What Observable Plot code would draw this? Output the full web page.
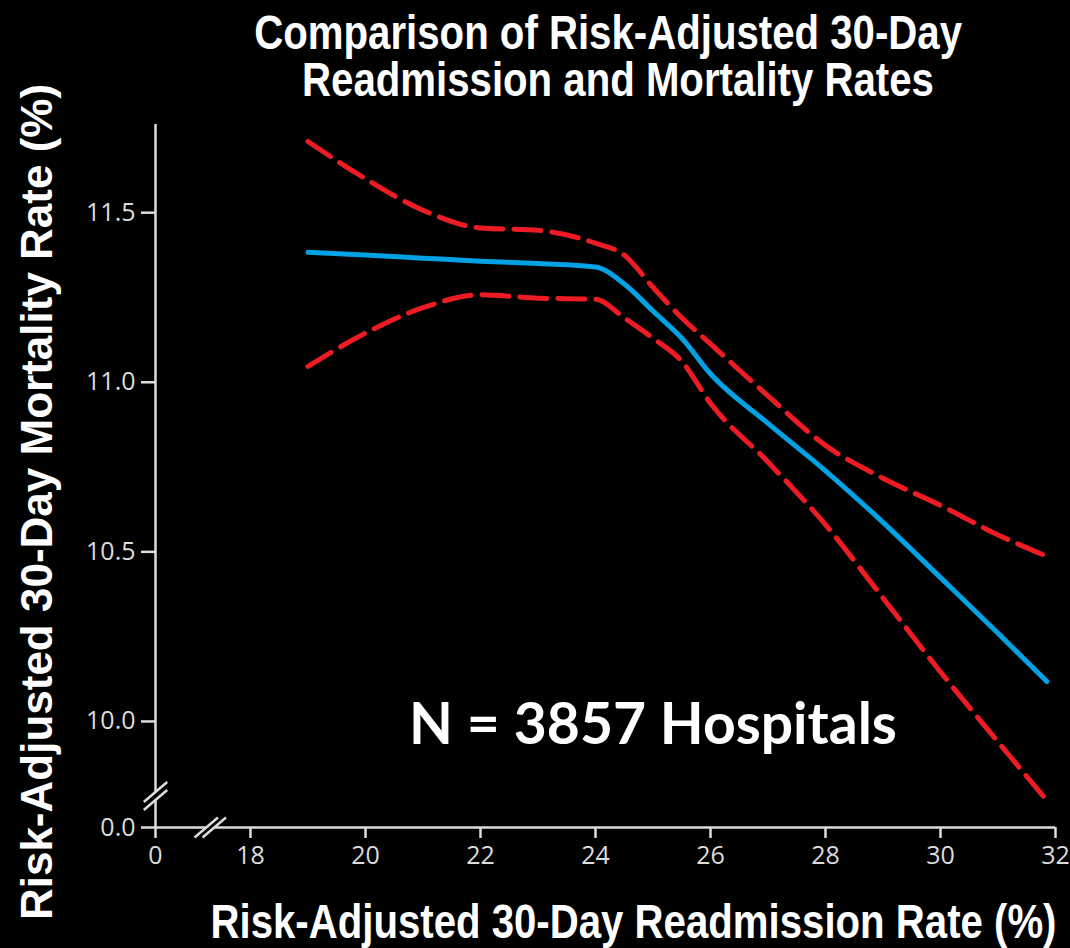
<!DOCTYPE html>
<html><head><meta charset="utf-8">
<script src="https://cdn.jsdelivr.net/npm/d3@7"></script>
<script src="https://cdn.jsdelivr.net/npm/@observablehq/plot@0.6"></script>
<style>
html,body{margin:0;padding:0;background:#000;}
#wrap{position:relative;width:1070px;height:948px;overflow:hidden;}
#title{position:absolute;left:118px;top:9px;width:1000px;text-align:center;text-indent:-24px;color:#fff;white-space:nowrap;
  font-family:"Liberation Sans",Arial,sans-serif;font-weight:bold;font-size:49px;line-height:47px;
  transform:scaleX(0.82);transform-origin:50% 50%;}
</style></head><body>
<div id="wrap"><div id="chart"></div>
<div id="title">Comparison of Risk-Adjusted 30-Day<br>Readmission and Mortality Rates</div>
</div>
<script>
// ---- data ----
const readmission = [19.0, 20, 21, 22, 23, 24, 24.5, 25, 25.5, 26, 27, 28, 29, 30, 31, 31.85];
const mortality   = [11.383, 11.375, 11.366, 11.357, 11.350, 11.340, 11.29, 11.21, 11.13, 11.025, 10.879, 10.739, 10.587, 10.424, 10.26, 10.118];
const upperCI     = [11.71, 11.60, 11.507, 11.455, 11.448, 11.41, 11.375, 11.28, 11.19, 11.113, 10.96, 10.814, 10.717, 10.637, 10.55, 10.487];
const lowerCI     = [11.047, 11.145, 11.22, 11.258, 11.248, 11.245, 11.19, 11.13, 11.062, 10.938, 10.765, 10.58, 10.364, 10.146, 9.94, 9.767];
const xTicks = [0, 18, 20, 22, 24, 26, 28, 30, 32];
const yTicks = [0, 10, 10.5, 11, 11.5];
const xBreak = [17.3];
const yBreak = [9.78];
const annotation = [{x: 25, y: 10.0, label: "N = 3857 Hospitals"}];
const xLabel = "Risk-Adjusted 30-Day Readmission Rate (%)";
const yLabel = "Risk-Adjusted 30-Day Mortality Rate (%)";

const rows = readmission.map((r, i) => ({r, m: mortality[i], u: upperCI[i], l: lowerCI[i]}));

// broken-axis "//" glyphs
const xBreakSymbol = {draw(c) { c.moveTo(-15.7, 10); c.lineTo(7.7, -10); c.moveTo(-7.7, 10); c.lineTo(15.7, -10); }};
const xGapSymbol = {draw(c) { c.moveTo(-4, 0); c.lineTo(4, 0); }};
const yBreakSymbol = {draw(c) { c.moveTo(-11.7, 6); c.lineTo(11.7, -14); c.moveTo(-11.7, 14); c.lineTo(11.7, -6); }};
const yGapSymbol = {draw(c) { c.moveTo(0, -4); c.lineTo(0, 4); }};

const axisColor = "#dcdcdc";
const red = "#ed1c24", blue = "#00a2e3";
const sans = "'Liberation Sans', Arial, sans-serif";

const chart = Plot.plot({
  width: 1070, height: 948,
  marginLeft: 155, marginBottom: 121, marginTop: 124, marginRight: 13,
  style: {background: "#000", color: axisColor, fontFamily: "'Open Sans', sans-serif", fontSize: "25px"},
  x: {type: "linear", domain: [0, 17.2, 32], range: [155, 204, 1055], label: null, axis: null},
  y: {type: "linear", domain: [0, 9.7, 11.76], range: [827, 822.7, 124], label: null, axis: null},
  marks: [
    Plot.axisX({ticks: xTicks, tickSize: 11, tickPadding: 8, strokeWidth: 2.5, label: null, fontSize: 25}),
    Plot.axisY({ticks: yTicks, tickFormat: d3.format(".1f"), tickSize: 14, tickPadding: 6, strokeWidth: 2.5, label: null, fontSize: 25}),
    Plot.ruleY([0], {x1: 0, x2: 32, stroke: axisColor, strokeWidth: 2.5}),
    Plot.ruleX([0], {y1: 0, y2: 11.76, stroke: axisColor, strokeWidth: 2.5}),
    Plot.dot(xBreak, {x: d => d, y: 0, symbol: xGapSymbol, fill: "none", stroke: "#000", strokeWidth: 7}),
    Plot.dot(xBreak, {x: d => d, y: 0, symbol: xBreakSymbol, fill: "none", stroke: axisColor, strokeWidth: 2.5}),
    Plot.dot(yBreak, {x: 0, y: d => d, symbol: yGapSymbol, fill: "none", stroke: "#000", strokeWidth: 7}),
    Plot.dot(yBreak, {x: 0, y: d => d, symbol: yBreakSymbol, fill: "none", stroke: axisColor, strokeWidth: 2.5}),
    Plot.line(rows, {x: "r", y: "u", stroke: red, strokeWidth: 5, strokeDasharray: "27,11", curve: "monotone-x"}),
    Plot.line(rows, {x: "r", y: "l", stroke: red, strokeWidth: 5, strokeDasharray: "27,11", curve: "monotone-x"}),
    Plot.line(rows, {x: "r", y: "m", stroke: blue, strokeWidth: 5, strokeLinecap: "round", curve: "monotone-x"}),
    Plot.text(annotation, {x: "x", y: "y", text: "label", dy: 4, fill: "#fff", fontSize: 57, fontWeight: "bold", fontFamily: "Lato, 'Open Sans', sans-serif"}),
    Plot.text([xLabel], {frameAnchor: "bottom-right", textAnchor: "end", lineAnchor: "middle", dy: 95, dx: -1, fill: "#fff", fontSize: 49, fontWeight: "bold", fontFamily: sans}),
    Plot.text([yLabel], {frameAnchor: "left", rotate: -90, textAnchor: "middle", lineAnchor: "middle", dx: -117.5, dy: 26, fill: "#fff", fontSize: 44, fontWeight: "bold", fontFamily: sans})
  ]
});
// condense the x-axis title horizontally (narrow bold face, as in the reference)
d3.select(chart).selectAll("text").filter(function() { return this.textContent === xLabel; })
  .attr("transform", function() { return (this.getAttribute("transform") || "") + " scale(0.82,1)"; });
document.getElementById("chart").appendChild(chart);
</script>
</body></html>
